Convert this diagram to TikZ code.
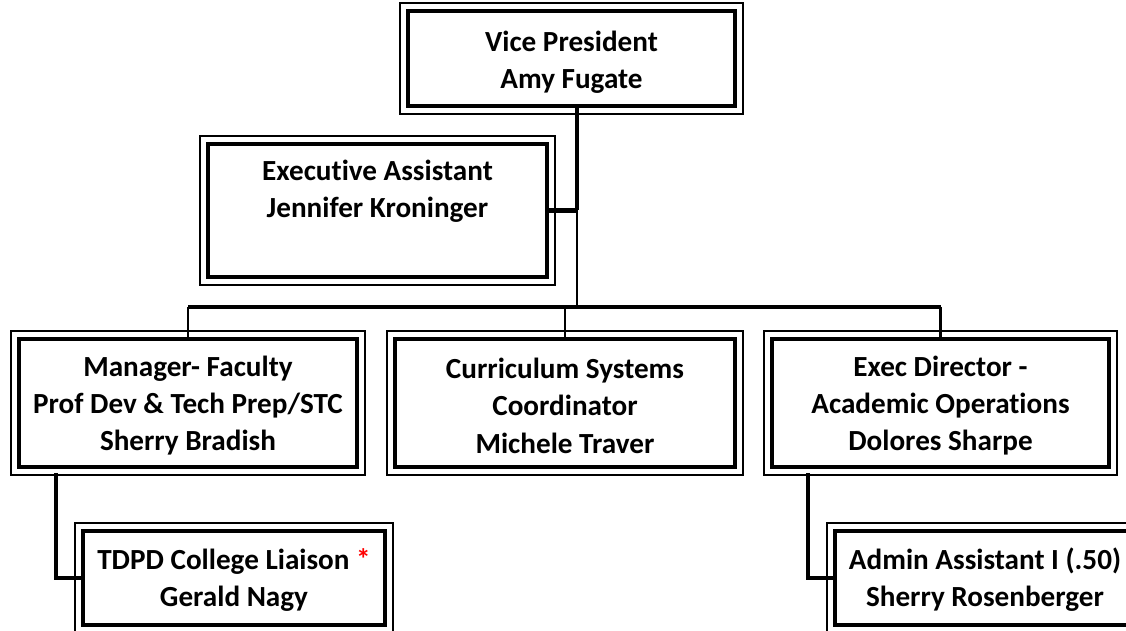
\documentclass[tikz,border=0pt]{standalone}
\usepackage{fontspec}
\setmainfont{Carlito}[Ligatures={NoCommon}]
\usepackage{tikz}
\usetikzlibrary{calc}
\usepackage[dvipsnames]{xcolor}

\begin{document}
\begin{tikzpicture}[x=0.02cm, y=-0.02cm,
    OBX/.style={draw=black, line width=2.4pt, rectangle, inner sep=0pt, font=\bfseries\fontsize{16.6}{21.3}\selectfont},
    LNK/.style={draw=black, line width=1.9pt}
    ]
        \path[use as bounding box, clip] (0,0) rectangle (1126,631);
        \node[OBX, minimum width=6.54cm, minimum height=1.9cm] (VP) at (571.5,58.5) {\parbox{6cm}{\vspace{4.5pt}\centering Vice President\\Amy Fugate}};
        \node[OBX, minimum width=6.78cm, minimum height=2.66cm] (EA) at (377.5,210.5) {\parbox{6cm}{\vspace{3pt}\centering Executive Assistant\\Jennifer Kroninger\\\strut}};
        \node[OBX, minimum width=6.76cm, minimum height=2.56cm] (M1) at (188,403) {\parbox{6.5cm}{\vspace{3pt}\centering Manager- Faculty\\Prof Dev \& Tech Prep/STC\\Sherry Bradish}};
        \node[OBX, minimum width=6.8cm, minimum height=2.56cm] (M2) at (565,403) {\parbox{6.5cm}{\vspace{3pt}\centering Curriculum Systems\\Coordinator\\Michele Traver}};
        \node[OBX, minimum width=6.74cm, minimum height=2.56cm] (M3) at (940.5,403) {\parbox{6.5cm}{\vspace{3pt}\centering Exec Director -\\Academic Operations\\Dolores Sharpe}};
        \node[OBX, minimum width=6.04cm, minimum height=1.88cm] (S1) at (234,578) {\parbox{6cm}{\vspace{2pt}\centering TDPD College Liaison \textcolor{red}{*}\\Gerald Nagy}};
        \node[OBX, minimum width=5.96cm, minimum height=1.88cm] (S2) at (985,578) {\parbox{6cm}{\vspace{2pt}\centering Admin Assistant I (.50)\\Sherry Rosenberger}};
        % thin outer frames
        \foreach \n in {VP,EA,M1,M2,M3,S1,S2}
            \draw[line width=0.7pt] ($(\n.south west)+(-6,6)$) rectangle ($(\n.north east)+(6,-6)$);
        % lines
        \coordinate (T1) at ([xshift=0.11cm]VP.south |- EA.east);
        \coordinate (T2) at (T1 |- 0,307);
        \draw[LNK, line width=2.3pt] ([xshift=0.11cm]VP.south) -- (T1);
        \draw[LNK, line width=2.3pt] (EA.east) -- (T1);
        \draw[LNK, line width=1.2pt] (T1) -- (T2);
        \draw[LNK] (M1.north |- T2) -- (M3.north |- T2);
        \draw[LNK, line width=1.2pt] (M1.north |- T2) -- (M1.north);
        \draw[LNK, line width=1.2pt] (M2.north |- T2) -- (M2.north);
        \draw[LNK, line width=1.2pt] (M3.north |- T2) -- (M3.north);
        \draw[LNK] (56,473) |- (S1.west);
        \draw[LNK] (808,473) |- (S2.west);
    \end{tikzpicture}
\end{document}
